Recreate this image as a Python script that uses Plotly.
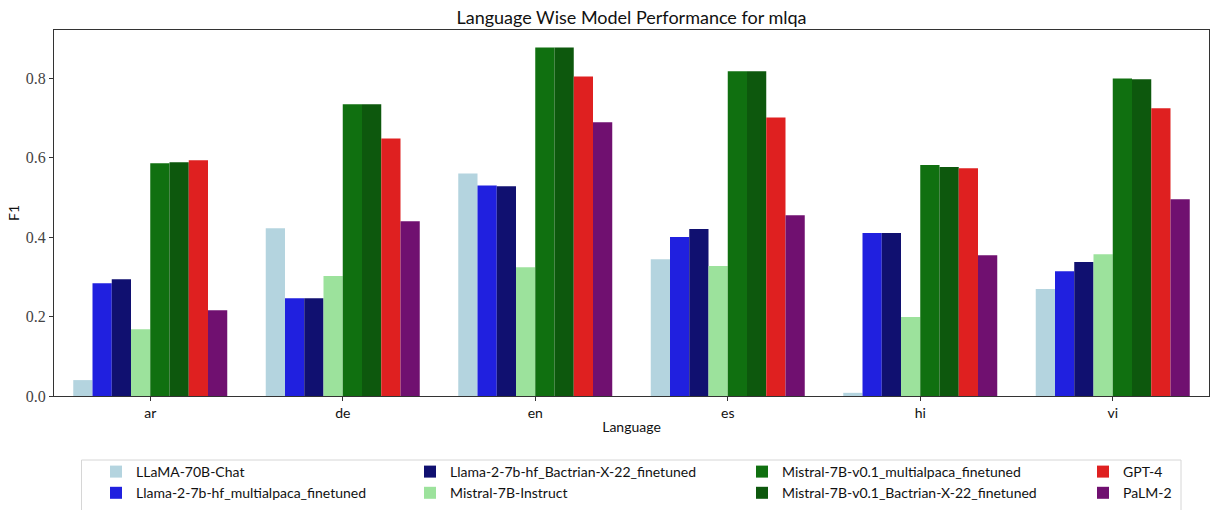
import plotly.graph_objects as go

languages = ["ar", "de", "en", "es", "hi", "vi"]

models = [
    "LLaMA-70B-Chat",
    "Llama-2-7b-hf_multialpaca_finetuned",
    "Llama-2-7b-hf_Bactrian-X-22_finetuned",
    "Mistral-7B-Instruct",
    "Mistral-7B-v0.1_multialpaca_finetuned",
    "Mistral-7B-v0.1_Bactrian-X-22_finetuned",
    "GPT-4",
    "PaLM-2",
]

llama70b_chat = [0.040, 0.422, 0.560, 0.344, 0.008, 0.269]
llama2_multialpaca = [0.284, 0.246, 0.530, 0.400, 0.410, 0.314]
llama2_bactrian = [0.294, 0.246, 0.528, 0.420, 0.410, 0.337]
mistral_instruct = [0.168, 0.302, 0.324, 0.327, 0.199, 0.357]
mistral_multialpaca = [0.586, 0.734, 0.877, 0.817, 0.581, 0.799]
mistral_bactrian = [0.588, 0.734, 0.877, 0.817, 0.576, 0.797]
gpt4 = [0.593, 0.648, 0.804, 0.701, 0.573, 0.724]
palm2 = [0.216, 0.440, 0.689, 0.455, 0.354, 0.495]

series = [llama70b_chat, llama2_multialpaca, llama2_bactrian, mistral_instruct,
          mistral_multialpaca, mistral_bactrian, gpt4, palm2]

colors = ["#b4d4df", "#2020df", "#101070", "#9ce29c",
          "#107010", "#0d580d", "#df2020", "#701070"]

y_ticks = [0.0, 0.2, 0.4, 0.6, 0.8]

W, H = 1211, 510
ML, MR, MT, MB = 54, 2, 30, 114
PW = W - ML - MR
PH = H - MT - MB

def px_x(X):
    return (X - ML) / PW

def px_y(Y):
    return (H - MB - Y) / PH

# legend columns (matplotlib ncol=4, column-major fill)
legend_names = ["legend", "legend2", "legend3", "legend4"]
col_text_x = [136, 450, 782, 1123]

fig = go.Figure()
for i, (name, vals, col) in enumerate(zip(models, series, colors)):
    fig.add_trace(go.Bar(
        x=languages, y=vals, name=name,
        marker=dict(color=col, line=dict(width=0)),
        legend=legend_names[i // 2],
        legendgroup=f"g{i}",
    ))

legend_common = dict(
    orientation="v",
    font=dict(family="Lato", size=14, color="#111111"),
    bgcolor="rgba(0,0,0,0)",
    borderwidth=0,
    yanchor="top",
    xanchor="left",
    traceorder="normal",
    tracegroupgap=8,
    itemclick=False,
    itemdoubleclick=False,
)

layout_legends = {}
for k, ln in enumerate(legend_names):
    layout_legends[ln] = dict(legend_common, x=px_x(col_text_x[k] - 40), y=px_y(456))

fig.update_layout(
    template="none",
    width=W, height=H,
    margin=dict(l=ML, r=MR, t=MT, b=MB, autoexpand=False),
    paper_bgcolor="white",
    plot_bgcolor="white",
    barmode="group",
    bargap=0.2,
    bargroupgap=0,
    showlegend=True,
    title=dict(
        text="Language Wise Model Performance for mlqa",
        font=dict(family="Lato", size=18, color="#111111"),
        xref="paper", x=0.5, xanchor="center",
        yref="container", y=1 - 18 / H, yanchor="middle",
    ),
    xaxis=dict(
        title=dict(text="Language", font=dict(family="Lato", size=14, color="#111111"), standoff=2),
        tickfont=dict(family="Lato", size=14, color="#111111"),
        range=[-0.5, 5.5],
        automargin=False,
        showline=True, linecolor="#333333", linewidth=1.2, mirror=True,
        ticks="outside", ticklen=4, tickwidth=1, tickcolor="#333333",
        showgrid=False, zeroline=False,
    ),
    yaxis=dict(
        title=dict(text="F1", font=dict(family="Lato", size=14, color="#111111"), standoff=2),
        tickfont=dict(family="Liberation Serif", size=16, color="#444444"),
        range=[0, 0.921],
        automargin=False,
        tickvals=y_ticks,
        ticktext=[f"{v:.1f}" for v in y_ticks],
        showline=True, linecolor="#333333", linewidth=1.2, mirror=True,
        ticks="outside", ticklen=4, tickwidth=1, tickcolor="#333333",
        showgrid=False, zeroline=False,
    ),
    **layout_legends,
)

# legend frame (single box around all columns, as in matplotlib)
fig.add_shape(
    type="rect", xref="paper", yref="paper",
    x0=px_x(81.5), x1=px_x(1181), y0=px_y(460), y1=px_y(530),
    line=dict(color="#d6d6d6", width=1), fillcolor="rgba(255,255,255,0.8)",
    layer="below",
)

fig.write_html(
    "out.html",
    config={"displayModeBar": False},
    post_script="document.body.style.margin='0px';document.body.style.overflow='hidden';",
)
